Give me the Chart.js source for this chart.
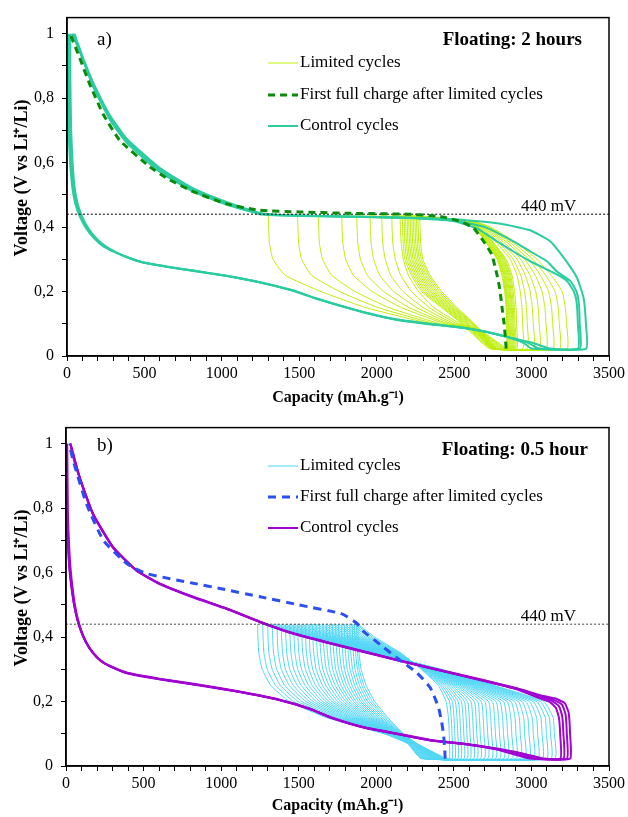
<!DOCTYPE html>
<html>
<head>
<meta charset="utf-8">
<script src="https://cdn.jsdelivr.net/npm/chart.js@4.4.0/dist/chart.umd.min.js"></script>
<style>
html, body { margin: 0; padding: 0; background: #fff; }
#wrap { position: relative; width: 628px; height: 817px; }
canvas { position: absolute; left: 0; }
#chartA { top: 0; }
#chartB { top: 410px; }
</style>
</head>
<body>
<div id="wrap">
<canvas id="chartA" width="628" height="410"></canvas>
<canvas id="chartB" width="628" height="407"></canvas>
</div>
<script>
// ---------- panel a) floating 2 hours ----------
// limited cycles: capacity read at fixed voltages
const limA_disV = [0.435, 0.40, 0.35, 0.30, 0.25, 0.20, 0.15, 0.10, 0.08, 0.023];
const limA_dis = [
  [1300,1302,1307,1330,1410,1640,1930,2350,2620,2742],
  [1489,1491,1496,1515,1580,1760,2010,2380,2630,2746],
  [1623,1625,1630,1650,1710,1860,2080,2410,2638,2750],
  [1774,1776,1781,1800,1850,1970,2160,2440,2645,2754],
  [1871,1873,1878,1895,1940,2045,2210,2460,2650,2758],
  [1957,1959,1964,1980,2020,2110,2260,2480,2655,2762],
  [2032,2034,2039,2055,2090,2170,2300,2500,2660,2766],
  [2097,2099,2104,2120,2155,2225,2340,2520,2665,2770],
  [2151,2153,2158,2172,2205,2270,2370,2540,2670,2774],
  [2165,2167,2171,2182,2225,2290,2420,2550,2592,2728],
  [2176,2178,2182,2193,2236,2302,2429,2558,2600,2738],
  [2186,2188,2192,2204,2247,2314,2438,2566,2608,2748],
  [2196,2198,2202,2214,2258,2325,2447,2573,2615,2758],
  [2206,2208,2212,2225,2269,2337,2456,2581,2623,2768],
  [2216,2218,2222,2235,2280,2348,2465,2589,2631,2778],
  [2226,2228,2232,2246,2291,2360,2474,2597,2639,2788],
  [2236,2238,2242,2256,2302,2372,2483,2605,2647,2798],
  [2246,2248,2252,2267,2313,2383,2492,2613,2655,2808],
  [2256,2258,2262,2277,2324,2395,2501,2620,2662,2818],
  [2266,2268,2272,2288,2335,2407,2510,2625,2667,2828],
  [2278,2280,2284,2298,2345,2420,2520,2630,2672,2838]
];
const limA_chgV = [0.023, 0.10, 0.15, 0.20, 0.25, 0.30, 0.35, 0.40, 0.42, 0.435];
const limA_chg = [
  [3228,3226,3218,3198,3128,3035,2905,2735,2600,1489],
  [3181,3179,3172,3152,3092,3008,2885,2725,2596,1623],
  [3138,3136,3129,3110,3058,2982,2866,2715,2592,1774],
  [3095,3093,3086,3068,3024,2956,2847,2705,2588,1871],
  [3051,3049,3043,3027,2990,2930,2828,2695,2584,1957],
  [3013,3011,3005,2991,2960,2906,2810,2686,2581,2032],
  [2974,2972,2967,2955,2930,2882,2792,2677,2578,2097],
  [2944,2942,2938,2927,2906,2862,2777,2670,2576,2151],
  [2905,2903,2900,2890,2874,2836,2758,2662,2574,2165],
  [2895,2893,2890,2881,2866,2829,2753,2659,2573,2176],
  [2888,2886,2883,2874,2860,2823,2747,2656,2572,2186],
  [2881,2879,2876,2867,2853,2817,2742,2653,2572,2196],
  [2875,2873,2870,2861,2847,2811,2737,2650,2571,2206],
  [2869,2867,2864,2855,2841,2805,2732,2647,2571,2216],
  [2863,2861,2858,2849,2835,2799,2727,2644,2570,2226],
  [2857,2855,2852,2843,2829,2794,2722,2641,2570,2236],
  [2852,2850,2847,2838,2824,2789,2718,2638,2570,2246],
  [2848,2846,2843,2834,2819,2785,2715,2635,2570,2256],
  [2844,2842,2839,2830,2813,2781,2712,2632,2570,2266],
  [2840,2839,2836,2826,2808,2778,2710,2630,2570,2278]
];
// control cycles [capacity, voltage]
const ctrlA1 = [[0,1.0],[4,0.85],[10,0.7],[20,0.6],[35,0.52],[55,0.47],[85,0.43],[125,0.395],[175,0.365],[235,0.34],[300,0.324],[400,0.305],[490,0.291],[650,0.277],[815,0.265],[1030,0.249],[1246,0.229],[1461,0.203],[1600,0.18],[1760,0.157],[1950,0.132],[2129,0.113],[2350,0.099],[2560,0.088],[2700,0.076],[2883,0.055],[3000,0.042],[3120,0.023],
  [3353,0.023],[3351,0.10],[3336,0.18],[3293,0.243],[3207,0.305],[3120,0.356],[2991,0.39],[2800,0.41],[2560,0.422],[2300,0.428],[1800,0.433],[1400,0.437],[1246,0.442],[1030,0.474],[815,0.515],[600,0.577],[384,0.669],[276,0.741],[168,0.843],[110,0.91],[82,0.946],[50,1.0]];
const ctrlA2 = [[20,1.0],[22,0.85],[27,0.7],[36,0.6],[50,0.52],[70,0.47],[100,0.43],[140,0.395],[190,0.365],[250,0.34],[315,0.322],[400,0.304],[490,0.29],[650,0.276],[815,0.264],[1030,0.248],[1246,0.228],[1461,0.202],[1600,0.179],[1760,0.156],[1950,0.131],[2129,0.112],[2350,0.098],[2560,0.087],[2700,0.075],[2883,0.053],[2950,0.04],[3000,0.023],
  [3312,0.023],[3311,0.10],[3306,0.16],[3290,0.2],[3250,0.233],[3164,0.262],[3099,0.294],[2990,0.325],[2883,0.356],[2700,0.40],[2500,0.42],[2200,0.429],[1800,0.433],[1400,0.437],[1246,0.444],[1030,0.478],[815,0.52],[600,0.583],[384,0.675],[276,0.748],[168,0.85],[100,0.93],[70,0.97],[40,1.0]];
const ctrlA3 = [[10,1.0],[12,0.85],[17,0.7],[27,0.6],[42,0.52],[62,0.47],[92,0.43],[132,0.395],[182,0.365],[242,0.34],[308,0.323],[400,0.304],[490,0.29],[650,0.277],[815,0.265],[1030,0.249],[1246,0.229],[1461,0.203],[1600,0.18],[1760,0.157],[1950,0.132],[2129,0.113],[2350,0.099],[2560,0.088],[2700,0.076],[2883,0.054],[2980,0.04],[3050,0.023],
  [3300,0.023],[3299,0.1],[3290,0.17],[3271,0.202],[3230,0.232],[3164,0.253],[2991,0.294],[2880,0.325],[2776,0.356],[2650,0.395],[2500,0.418],[2200,0.428],[1800,0.432],[1400,0.436],[1246,0.44],[1030,0.47],[815,0.51],[600,0.571],[384,0.662],[276,0.734],[168,0.836],[95,0.93],[60,0.97],[30,1.0]];
const fullA = [[2836,0.023],[2830,0.06],[2823,0.10],[2812,0.14],[2802,0.18],[2790,0.22],[2776,0.253],[2743,0.315],[2690,0.356],[2625,0.397],[2539,0.418],[2410,0.433],[2200,0.44],[1800,0.443],[1500,0.447],[1246,0.452],[1030,0.472],[815,0.51],[650,0.55],[535,0.587],[341,0.669],[233,0.751],[147,0.843],[82,0.925],[28,0.99],[20,1.0]];

// ---------- panel b) floating 0.5 hour ----------
const limB_disV = [0.44, 0.40, 0.35, 0.30, 0.25, 0.20, 0.15, 0.10, 0.07, 0.023];
const limB_dis = [
  [1235,1237,1243,1265,1320,1440,1680,2050,2200,2290],
  [1268,1270,1276,1297,1351,1468,1700,2056,2203,2296],
  [1300,1302,1308,1329,1382,1496,1720,2062,2206,2301],
  [1330,1332,1338,1358,1410,1521,1738,2067,2209,2307],
  [1360,1362,1368,1388,1439,1547,1756,2072,2212,2312],
  [1388,1390,1396,1415,1465,1570,1773,2077,2215,2318],
  [1415,1417,1423,1442,1491,1592,1789,2081,2218,2323],
  [1442,1444,1450,1468,1516,1614,1805,2086,2221,2329],
  [1468,1470,1476,1494,1541,1635,1820,2090,2224,2334],
  [1493,1495,1501,1518,1564,1655,1834,2095,2227,2340],
  [1518,1520,1526,1543,1587,1675,1848,2099,2230,2345],
  [1542,1544,1550,1566,1609,1694,1862,2103,2232,2351],
  [1566,1568,1574,1590,1632,1714,1875,2107,2235,2356],
  [1589,1591,1597,1612,1653,1732,1888,2111,2237,2362],
  [1612,1614,1620,1635,1675,1751,1901,2115,2240,2367],
  [1634,1636,1642,1656,1695,1769,1913,2119,2242,2373],
  [1656,1658,1664,1678,1716,1787,1926,2123,2244,2378],
  [1677,1679,1685,1698,1735,1804,1938,2127,2246,2384],
  [1698,1700,1706,1719,1755,1821,1950,2131,2248,2389],
  [1718,1720,1726,1738,1773,1837,1961,2135,2250,2395],
  [1738,1740,1745,1758,1792,1854,1973,2139,2252,2400],
  [1757,1759,1764,1776,1809,1869,1984,2143,2254,2406],
  [1776,1778,1783,1795,1827,1885,1995,2147,2255,2411],
  [1794,1796,1801,1813,1844,1900,2006,2151,2256,2417],
  [1812,1814,1819,1831,1861,1915,2017,2155,2257,2422],
  [1829,1831,1836,1847,1877,1930,2028,2159,2258,2428],
  [1845,1847,1852,1863,1892,1945,2040,2163,2259,2433],
  [1860,1862,1867,1878,1907,1960,2052,2167,2259,2439],
  [1872,1874,1879,1890,1920,1975,2063,2171,2260,2444],
  [1882,1884,1889,1902,1935,1990,2075,2175,2260,2450]
];
const limB_chgV = [0.023, 0.10, 0.15, 0.20, 0.25, 0.30, 0.35, 0.40, 0.44];
const limB_chg = [
  [3150,3148,3140,3080,2760,2420,1990,1580,1268],
  [3125,3123,3115,3058,2748,2415,1996,1594,1300],
  [3098,3096,3089,3035,2735,2410,2002,1609,1330],
  [3070,3068,3061,3012,2722,2406,2008,1624,1360],
  [3042,3040,3033,2988,2709,2401,2014,1638,1388],
  [3014,3012,3005,2964,2696,2397,2020,1653,1415],
  [2986,2984,2977,2940,2683,2392,2026,1667,1442],
  [2958,2956,2950,2916,2670,2388,2032,1682,1468],
  [2930,2928,2922,2892,2657,2383,2038,1697,1493],
  [2902,2900,2894,2868,2644,2378,2044,1711,1518],
  [2875,2873,2867,2844,2631,2374,2050,1726,1542],
  [2848,2846,2840,2820,2618,2369,2056,1740,1566],
  [2822,2820,2814,2796,2605,2364,2062,1755,1589],
  [2796,2794,2788,2772,2592,2360,2068,1770,1612],
  [2770,2768,2762,2748,2579,2355,2074,1784,1634],
  [2745,2743,2737,2724,2566,2350,2080,1799,1656],
  [2720,2718,2712,2700,2553,2346,2086,1814,1677],
  [2696,2694,2689,2677,2540,2341,2092,1828,1698],
  [2672,2670,2665,2654,2527,2336,2098,1843,1718],
  [2650,2648,2643,2632,2514,2332,2104,1857,1738],
  [2628,2626,2621,2610,2501,2327,2110,1872,1757],
  [2606,2604,2599,2588,2488,2322,2116,1887,1776],
  [2586,2584,2579,2568,2475,2318,2122,1901,1794],
  [2566,2564,2559,2548,2462,2313,2128,1916,1812],
  [2546,2544,2539,2528,2449,2308,2134,1930,1829],
  [2527,2525,2520,2509,2436,2304,2140,1945,1845],
  [2508,2506,2501,2490,2424,2299,2146,1960,1860],
  [2490,2488,2483,2472,2412,2295,2153,1975,1872],
  [2472,2470,2465,2450,2400,2290,2160,1990,1882]
];
const ctrlB1 = [[8,1.0],[12,0.8],[15,0.74],[28,0.62],[47,0.535],[65,0.48],[90,0.433],[130,0.385],[176,0.351],[230,0.325],[284,0.31],[391,0.289],[600,0.27],[821,0.254],[1000,0.24],[1143,0.228],[1359,0.207],[1574,0.177],[1703,0.151],[1917,0.12],[2133,0.10],[2348,0.08],[2562,0.069],[2778,0.054],[2949,0.038],[3078,0.023],
  [3250,0.023],[3249,0.10],[3240,0.165],[3215,0.195],[3150,0.21],[3078,0.217],[2906,0.241],[2670,0.269],[2348,0.305],[2133,0.33],[1917,0.356],[1703,0.382],[1466,0.412],[1251,0.448],[1036,0.489],[821,0.525],[606,0.566],[456,0.607],[305,0.679],[176,0.782],[90,0.894],[37,0.987],[25,1.0]];
const ctrlB2 = [[0,1.0],[4,0.8],[8,0.74],[20,0.62],[40,0.535],[60,0.48],[85,0.433],[126,0.385],[172,0.351],[226,0.325],[280,0.31],[391,0.288],[600,0.269],[821,0.253],[1000,0.239],[1143,0.227],[1359,0.206],[1574,0.176],[1703,0.15],[1917,0.119],[2133,0.099],[2348,0.079],[2562,0.068],[2778,0.052],[2920,0.036],[3050,0.023],
  [3229,0.023],[3228,0.10],[3220,0.16],[3198,0.19],[3140,0.206],[3070,0.215],[2906,0.239],[2670,0.267],[2348,0.303],[2133,0.328],[1917,0.354],[1703,0.38],[1466,0.41],[1251,0.446],[1036,0.487],[821,0.523],[606,0.564],[456,0.605],[305,0.676],[176,0.778],[90,0.89],[45,0.96],[30,1.0]];
const ctrlB3 = [[4,1.0],[8,0.8],[11,0.74],[24,0.62],[43,0.535],[62,0.48],[88,0.433],[128,0.385],[174,0.352],[228,0.326],[282,0.311],[391,0.29],[600,0.271],[821,0.255],[1000,0.241],[1143,0.229],[1359,0.208],[1574,0.178],[1703,0.152],[1917,0.121],[2133,0.101],[2348,0.081],[2562,0.07],[2778,0.053],[2900,0.038],[3020,0.023],
  [3207,0.023],[3206,0.10],[3198,0.155],[3178,0.185],[3130,0.203],[3060,0.213],[2906,0.24],[2670,0.268],[2348,0.304],[2133,0.329],[1917,0.355],[1703,0.381],[1466,0.411],[1251,0.447],[1036,0.488],[821,0.524],[606,0.565],[456,0.606],[305,0.677],[176,0.78],[90,0.892],[40,0.975],[28,1.0]];
const ctrlB4 = [[2,1.0],[6,0.8],[9,0.74],[22,0.62],[42,0.535],[61,0.48],[87,0.433],[127,0.385],[173,0.351],[227,0.325],[281,0.31],[391,0.289],[600,0.27],[821,0.254],[1000,0.24],[1143,0.228],[1359,0.207],[1574,0.177],[1703,0.151],[1917,0.12],[2133,0.10],[2348,0.08],[2562,0.068],[2778,0.051],[2880,0.037],[2990,0.023],
  [3186,0.023],[3185,0.10],[3177,0.15],[3158,0.18],[3115,0.2],[3050,0.211],[2906,0.238],[2670,0.267],[2348,0.304],[2133,0.329],[1917,0.355],[1703,0.381],[1466,0.411],[1251,0.447],[1036,0.488],[821,0.524],[606,0.565],[456,0.606],[305,0.677],[176,0.78],[90,0.892],[40,0.975],[27,1.0]];
const fullB = [[2444,0.023],[2440,0.06],[2433,0.10],[2420,0.14],[2401,0.182],[2348,0.243],[2262,0.289],[2133,0.335],[2025,0.377],[1917,0.418],[1874,0.443],[1810,0.464],[1767,0.474],[1500,0.5],[1251,0.525],[1000,0.55],[821,0.567],[520,0.597],[391,0.628],[241,0.70],[133,0.812],[47,0.946],[20,1.0]];

const cutV = 0.44;          // 440 mV line
const capMax = 3500;
const voltMax = 1.05;

Chart.defaults.font.family = '"Liberation Serif", "Times New Roman", serif';
Chart.defaults.color = '#000';

function pts(arr) {
  return arr.map(p => ({x: p[0], y: p[1]}));
}

function cycle(disV, dis, chgV, chg) {
  const out = dis.map((x, k) => ({x: x, y: disV[k]}));
  if (chg) chg.forEach((x, k) => out.push({x: x, y: chgV[k]}));
  return out;
}

function line(data, color, width, order, dash) {
  return {
    data: data, showLine: true, borderColor: color, borderWidth: width,
    borderDash: dash || [], pointRadius: 0, tension: 0.15, fill: false, order: order
  };
}

const decor = {
  id: 'decor',
  afterDraw(chart, args, o) {
    const ctx = chart.ctx, a = chart.chartArea;
    const xs = chart.scales.x, ys = chart.scales.y;
    ctx.save();
    ctx.strokeStyle = '#000';
    ctx.lineWidth = 1.5;
    ctx.strokeRect(a.left, a.top, a.right - a.left, a.bottom - a.top);
    ctx.fillStyle = '#000';
    ctx.textBaseline = 'middle';
    ctx.textAlign = 'left';
    ctx.font = '19px "Liberation Serif"';
    ctx.fillText(o.tag, 97, o.tagY);
    ctx.font = 'bold 19px "Liberation Serif"';
    ctx.textAlign = 'right';
    ctx.fillText(o.title, o.titleX, o.titleY);
    ctx.font = '17px "Liberation Serif"';
    ctx.textAlign = 'center';
    ctx.fillText('440 mV', xs.getPixelForValue(3110), ys.getPixelForValue(cutV) - 8);
    ctx.textAlign = 'left';
    o.legend.forEach((it, k) => {
      const y = o.legendY[k];
      ctx.beginPath();
      ctx.strokeStyle = it.color;
      ctx.lineWidth = it.width;
      ctx.setLineDash(it.dash || []);
      ctx.moveTo(268, y);
      ctx.lineTo(298, y);
      ctx.stroke();
      ctx.setLineDash([]);
      ctx.fillText(it.text, 300, y);
    });
    // y axis title
    ctx.translate(22, 178);
    ctx.rotate(-Math.PI / 2);
    ctx.textAlign = 'center';
    ctx.font = 'bold 18px "Liberation Serif"';
    ctx.fillText('Voltage (V vs Li\u207A/Li)', 0, 0);
    ctx.restore();
  }
};

function makeChart(id, yWidth, xHeight, xTitlePad, datasets, deco) {
  return new Chart(document.getElementById(id), {
    type: 'scatter',
    data: {datasets: datasets},
    options: {
      responsive: false,
      animation: false,
      events: [],
      layout: {padding: {top: 15, right: 19, left: 0, bottom: 0}},
      plugins: {legend: {display: false}, tooltip: {enabled: false}, decor: deco},
      scales: {
        x: {
          type: 'linear', min: 0, max: capMax,
          afterFit: s => { s.height = xHeight; },
          ticks: {
            stepSize: 100, autoSkip: false, maxRotation: 0, padding: 3, color: '#000',
            font: {size: 16},
            callback: v => (v % 500 === 0 ? String(v) : '')
          },
          grid: {drawOnChartArea: false, drawTicks: true, tickLength: 5, color: '#000', lineWidth: 1},
          border: {color: '#000', width: 1.5},
          title: {display: true, text: 'Capacity (mAh.g\u207B\u00B9)', color: '#000',
                  font: {size: 16, weight: 'bold'}, padding: {top: 0, bottom: xTitlePad}}
        },
        y: {
          type: 'linear', min: 0, max: voltMax,
          afterFit: s => { s.width = yWidth; },
          ticks: {
            stepSize: 0.1, includeBounds: false, padding: 8, color: '#000',
            font: {size: 16},
            callback: v => {
              const k = Math.round(v * 10);
              if (k % 2) return '';
              return k === 0 ? '0' : (k === 10 ? '1' : '0,' + k);
            }
          },
          grid: {drawOnChartArea: false, drawTicks: true, tickLength: 5, color: '#000', lineWidth: 1},
          border: {color: '#000', width: 1.5}
        }
      }
    },
    plugins: [decor]
  });
}

// panel a
const limColorA = '#bdee0a', ctrlColorA = '#2bcc9f', fullColorA = '#0b8a0b';
const dsA = [
  line(pts(fullA), fullColorA, 3, 0, [7, 5]),
  line([{x: 0, y: cutV}, {x: capMax, y: cutV}], '#000', 1, 1, [2, 2]),
  line(pts(ctrlA1), ctrlColorA, 2, 2),
  line(pts(ctrlA2), ctrlColorA, 2, 2),
  line(pts(ctrlA3), ctrlColorA, 2, 2)
];
limA_dis.forEach((row, i) => {
  dsA.push(line(cycle(limA_disV, row, limA_chgV, limA_chg[i]), limColorA, 1, 3));
});
makeChart('chartA', 67, 54, 3, dsA, {
  tag: 'a)', tagY: 40, title: 'Floating: 2 hours', titleX: 582, titleY: 40,
  legendY: [63, 95, 126],
  legend: [
    {text: 'Limited cycles', color: limColorA, width: 1},
    {text: 'First full charge after limited cycles', color: fullColorA, width: 3, dash: [7, 5]},
    {text: 'Control cycles', color: ctrlColorA, width: 2}
  ]
});

// panel b
const limColorB = '#4fd6f4', ctrlColorB = '#a005d2', fullColorB = '#2b4ff0';
const dsB = [
  line(pts(fullB), fullColorB, 3, 0, [8, 6]),
  line([{x: 0, y: cutV}, {x: capMax, y: cutV}], '#444', 1, 1, [2, 2]),
  line(pts(ctrlB1), ctrlColorB, 2, 2),
  line(pts(ctrlB2), ctrlColorB, 2, 2),
  line(pts(ctrlB3), ctrlColorB, 2, 2),
  line(pts(ctrlB4), ctrlColorB, 2, 2)
];
limB_dis.forEach((row, i) => {
  dsB.push(line(cycle(limB_disV, row, limB_chgV, limB_chg[i]), limColorB, 1, 3));
});
makeChart('chartB', 66, 51, 2, dsB, {
  tag: 'b)', tagY: 36, title: 'Floating: 0.5 hour', titleX: 588, titleY: 40,
  legendY: [56, 87, 118],
  legend: [
    {text: 'Limited cycles', color: limColorB, width: 1},
    {text: 'First full charge after limited cycles', color: fullColorB, width: 3, dash: [8, 6]},
    {text: 'Control cycles', color: ctrlColorB, width: 2}
  ]
});
</script>
</body>
</html>
